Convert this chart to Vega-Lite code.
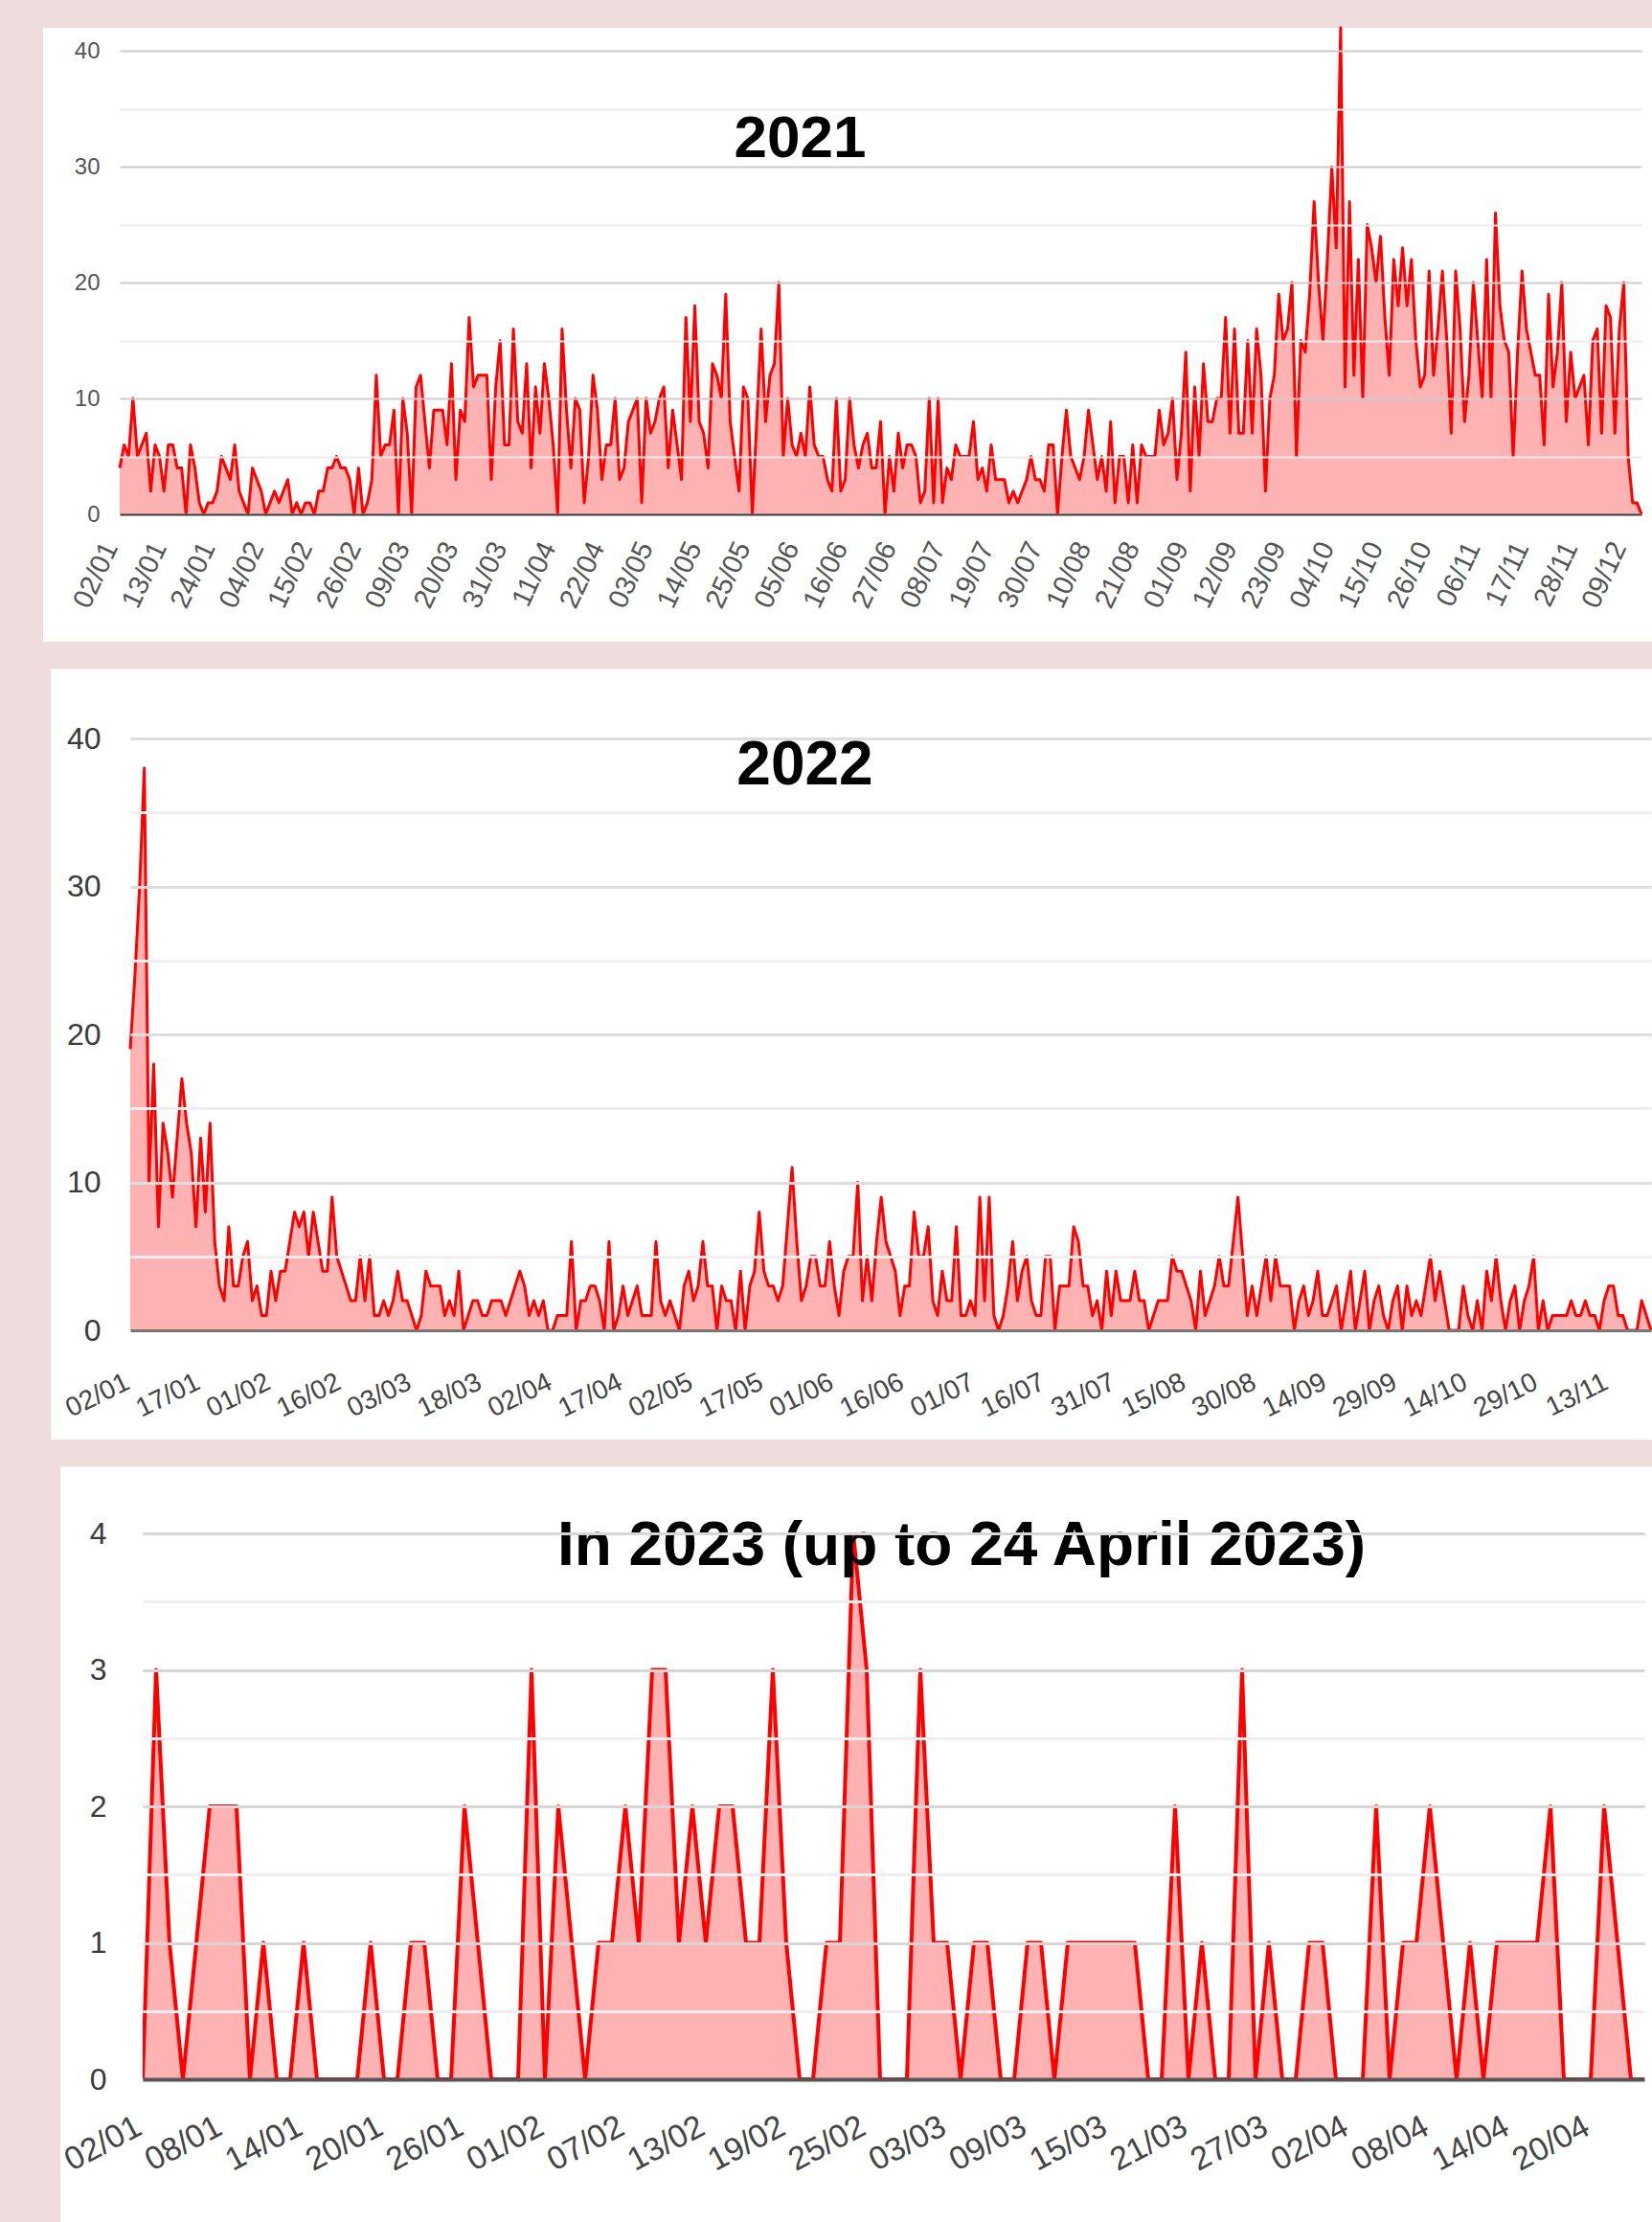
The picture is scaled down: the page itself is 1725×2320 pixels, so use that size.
{
  "$schema": "https://vega.github.io/schema/vega-lite/v6.json",
  "background": "#efdcdc",
  "padding": {"left": 44, "top": 27, "right": 0, "bottom": 0},
  "spacing": 27,
  "config": {
    "font": "Liberation Sans",
    "view": {"stroke": null},
    "axis": {"zindex": 1, "labelFont": "Liberation Sans"}
  },
  "datasets": {
    "y2021": [
      {"d":"2021-01-02","v":4},{"d":"2021-01-03","v":6},{"d":"2021-01-04","v":5},{"d":"2021-01-05","v":10},{"d":"2021-01-06","v":5},{"d":"2021-01-07","v":6},{"d":"2021-01-08","v":7},{"d":"2021-01-09","v":2},{"d":"2021-01-10","v":6},{"d":"2021-01-11","v":5},{"d":"2021-01-12","v":2},{"d":"2021-01-13","v":6},{"d":"2021-01-14","v":6},{"d":"2021-01-15","v":4},{"d":"2021-01-16","v":4},{"d":"2021-01-17","v":0},{"d":"2021-01-18","v":6},{"d":"2021-01-19","v":4},{"d":"2021-01-20","v":1},{"d":"2021-01-21","v":0},{"d":"2021-01-22","v":1},{"d":"2021-01-23","v":1},{"d":"2021-01-24","v":2},{"d":"2021-01-25","v":5},{"d":"2021-01-26","v":4},{"d":"2021-01-27","v":3},{"d":"2021-01-28","v":6},{"d":"2021-01-29","v":2},{"d":"2021-01-30","v":1},{"d":"2021-01-31","v":0},
      {"d":"2021-02-01","v":4},{"d":"2021-02-02","v":3},{"d":"2021-02-03","v":2},{"d":"2021-02-04","v":0},{"d":"2021-02-05","v":1},{"d":"2021-02-06","v":2},{"d":"2021-02-07","v":1},{"d":"2021-02-08","v":2},{"d":"2021-02-09","v":3},{"d":"2021-02-10","v":0},{"d":"2021-02-11","v":1},{"d":"2021-02-12","v":0},{"d":"2021-02-13","v":1},{"d":"2021-02-14","v":1},{"d":"2021-02-15","v":0},{"d":"2021-02-16","v":2},{"d":"2021-02-17","v":2},{"d":"2021-02-18","v":4},{"d":"2021-02-19","v":4},{"d":"2021-02-20","v":5},{"d":"2021-02-21","v":4},{"d":"2021-02-22","v":4},{"d":"2021-02-23","v":3},{"d":"2021-02-24","v":0},{"d":"2021-02-25","v":4},{"d":"2021-02-26","v":0},{"d":"2021-02-27","v":1},{"d":"2021-02-28","v":3},
      {"d":"2021-03-01","v":12},{"d":"2021-03-02","v":5},{"d":"2021-03-03","v":6},{"d":"2021-03-04","v":6},{"d":"2021-03-05","v":9},{"d":"2021-03-06","v":0},{"d":"2021-03-07","v":10},{"d":"2021-03-08","v":7},{"d":"2021-03-09","v":0},{"d":"2021-03-10","v":11},{"d":"2021-03-11","v":12},{"d":"2021-03-12","v":8},{"d":"2021-03-13","v":4},{"d":"2021-03-14","v":9},{"d":"2021-03-15","v":9},{"d":"2021-03-16","v":9},{"d":"2021-03-17","v":6},{"d":"2021-03-18","v":13},{"d":"2021-03-19","v":3},{"d":"2021-03-20","v":9},{"d":"2021-03-21","v":8},{"d":"2021-03-22","v":17},{"d":"2021-03-23","v":11},{"d":"2021-03-24","v":12},{"d":"2021-03-25","v":12},{"d":"2021-03-26","v":12},{"d":"2021-03-27","v":3},{"d":"2021-03-28","v":11},{"d":"2021-03-29","v":15},{"d":"2021-03-30","v":6},{"d":"2021-03-31","v":6},
      {"d":"2021-04-01","v":16},{"d":"2021-04-02","v":8},{"d":"2021-04-03","v":7},{"d":"2021-04-04","v":13},{"d":"2021-04-05","v":4},{"d":"2021-04-06","v":11},{"d":"2021-04-07","v":7},{"d":"2021-04-08","v":13},{"d":"2021-04-09","v":10},{"d":"2021-04-10","v":6},{"d":"2021-04-11","v":0},{"d":"2021-04-12","v":16},{"d":"2021-04-13","v":9},{"d":"2021-04-14","v":4},{"d":"2021-04-15","v":10},{"d":"2021-04-16","v":9},{"d":"2021-04-17","v":1},{"d":"2021-04-18","v":5},{"d":"2021-04-19","v":12},{"d":"2021-04-20","v":9},{"d":"2021-04-21","v":3},{"d":"2021-04-22","v":6},{"d":"2021-04-23","v":6},{"d":"2021-04-24","v":10},{"d":"2021-04-25","v":3},{"d":"2021-04-26","v":4},{"d":"2021-04-27","v":8},{"d":"2021-04-28","v":9},{"d":"2021-04-29","v":10},{"d":"2021-04-30","v":1},
      {"d":"2021-05-01","v":10},{"d":"2021-05-02","v":7},{"d":"2021-05-03","v":8},{"d":"2021-05-04","v":10},{"d":"2021-05-05","v":11},{"d":"2021-05-06","v":4},{"d":"2021-05-07","v":9},{"d":"2021-05-08","v":6},{"d":"2021-05-09","v":3},{"d":"2021-05-10","v":17},{"d":"2021-05-11","v":8},{"d":"2021-05-12","v":18},{"d":"2021-05-13","v":8},{"d":"2021-05-14","v":7},{"d":"2021-05-15","v":4},{"d":"2021-05-16","v":13},{"d":"2021-05-17","v":12},{"d":"2021-05-18","v":10},{"d":"2021-05-19","v":19},{"d":"2021-05-20","v":8},{"d":"2021-05-21","v":5},{"d":"2021-05-22","v":2},{"d":"2021-05-23","v":11},{"d":"2021-05-24","v":10},{"d":"2021-05-25","v":0},{"d":"2021-05-26","v":8},{"d":"2021-05-27","v":16},{"d":"2021-05-28","v":8},{"d":"2021-05-29","v":12},{"d":"2021-05-30","v":13},{"d":"2021-05-31","v":20},
      {"d":"2021-06-01","v":5},{"d":"2021-06-02","v":10},{"d":"2021-06-03","v":6},{"d":"2021-06-04","v":5},{"d":"2021-06-05","v":7},{"d":"2021-06-06","v":5},{"d":"2021-06-07","v":11},{"d":"2021-06-08","v":6},{"d":"2021-06-09","v":5},{"d":"2021-06-10","v":5},{"d":"2021-06-11","v":3},{"d":"2021-06-12","v":2},{"d":"2021-06-13","v":10},{"d":"2021-06-14","v":2},{"d":"2021-06-15","v":3},{"d":"2021-06-16","v":10},{"d":"2021-06-17","v":6},{"d":"2021-06-18","v":4},{"d":"2021-06-19","v":6},{"d":"2021-06-20","v":7},{"d":"2021-06-21","v":4},{"d":"2021-06-22","v":4},{"d":"2021-06-23","v":8},{"d":"2021-06-24","v":0},{"d":"2021-06-25","v":5},{"d":"2021-06-26","v":2},{"d":"2021-06-27","v":7},{"d":"2021-06-28","v":4},{"d":"2021-06-29","v":6},{"d":"2021-06-30","v":6},
      {"d":"2021-07-01","v":5},{"d":"2021-07-02","v":1},{"d":"2021-07-03","v":2},{"d":"2021-07-04","v":10},{"d":"2021-07-05","v":1},{"d":"2021-07-06","v":10},{"d":"2021-07-07","v":1},{"d":"2021-07-08","v":4},{"d":"2021-07-09","v":3},{"d":"2021-07-10","v":6},{"d":"2021-07-11","v":5},{"d":"2021-07-12","v":5},{"d":"2021-07-13","v":5},{"d":"2021-07-14","v":8},{"d":"2021-07-15","v":3},{"d":"2021-07-16","v":4},{"d":"2021-07-17","v":2},{"d":"2021-07-18","v":6},{"d":"2021-07-19","v":3},{"d":"2021-07-20","v":3},{"d":"2021-07-21","v":3},{"d":"2021-07-22","v":1},{"d":"2021-07-23","v":2},{"d":"2021-07-24","v":1},{"d":"2021-07-25","v":2},{"d":"2021-07-26","v":3},{"d":"2021-07-27","v":5},{"d":"2021-07-28","v":3},{"d":"2021-07-29","v":3},{"d":"2021-07-30","v":2},{"d":"2021-07-31","v":6},
      {"d":"2021-08-01","v":6},{"d":"2021-08-02","v":0},{"d":"2021-08-03","v":5},{"d":"2021-08-04","v":9},{"d":"2021-08-05","v":5},{"d":"2021-08-06","v":4},{"d":"2021-08-07","v":3},{"d":"2021-08-08","v":5},{"d":"2021-08-09","v":9},{"d":"2021-08-10","v":6},{"d":"2021-08-11","v":3},{"d":"2021-08-12","v":5},{"d":"2021-08-13","v":2},{"d":"2021-08-14","v":8},{"d":"2021-08-15","v":1},{"d":"2021-08-16","v":5},{"d":"2021-08-17","v":5},{"d":"2021-08-18","v":1},{"d":"2021-08-19","v":6},{"d":"2021-08-20","v":1},{"d":"2021-08-21","v":6},{"d":"2021-08-22","v":5},{"d":"2021-08-23","v":5},{"d":"2021-08-24","v":5},{"d":"2021-08-25","v":9},{"d":"2021-08-26","v":6},{"d":"2021-08-27","v":7},{"d":"2021-08-28","v":10},{"d":"2021-08-29","v":3},{"d":"2021-08-30","v":7},{"d":"2021-08-31","v":14},
      {"d":"2021-09-01","v":2},{"d":"2021-09-02","v":11},{"d":"2021-09-03","v":5},{"d":"2021-09-04","v":13},{"d":"2021-09-05","v":8},{"d":"2021-09-06","v":8},{"d":"2021-09-07","v":10},{"d":"2021-09-08","v":10},{"d":"2021-09-09","v":17},{"d":"2021-09-10","v":7},{"d":"2021-09-11","v":16},{"d":"2021-09-12","v":7},{"d":"2021-09-13","v":7},{"d":"2021-09-14","v":15},{"d":"2021-09-15","v":7},{"d":"2021-09-16","v":16},{"d":"2021-09-17","v":12},{"d":"2021-09-18","v":2},{"d":"2021-09-19","v":10},{"d":"2021-09-20","v":12},{"d":"2021-09-21","v":19},{"d":"2021-09-22","v":15},{"d":"2021-09-23","v":16},{"d":"2021-09-24","v":20},{"d":"2021-09-25","v":5},{"d":"2021-09-26","v":15},{"d":"2021-09-27","v":14},{"d":"2021-09-28","v":19},{"d":"2021-09-29","v":27},{"d":"2021-09-30","v":20},
      {"d":"2021-10-01","v":15},{"d":"2021-10-02","v":22},{"d":"2021-10-03","v":30},{"d":"2021-10-04","v":23},{"d":"2021-10-05","v":42},{"d":"2021-10-06","v":11},{"d":"2021-10-07","v":27},{"d":"2021-10-08","v":12},{"d":"2021-10-09","v":22},{"d":"2021-10-10","v":10},{"d":"2021-10-11","v":25},{"d":"2021-10-12","v":23},{"d":"2021-10-13","v":20},{"d":"2021-10-14","v":24},{"d":"2021-10-15","v":17},{"d":"2021-10-16","v":12},{"d":"2021-10-17","v":22},{"d":"2021-10-18","v":18},{"d":"2021-10-19","v":23},{"d":"2021-10-20","v":18},{"d":"2021-10-21","v":22},{"d":"2021-10-22","v":15},{"d":"2021-10-23","v":11},{"d":"2021-10-24","v":12},{"d":"2021-10-25","v":21},{"d":"2021-10-26","v":12},{"d":"2021-10-27","v":16},{"d":"2021-10-28","v":21},{"d":"2021-10-29","v":15},{"d":"2021-10-30","v":7},{"d":"2021-10-31","v":21},
      {"d":"2021-11-01","v":16},{"d":"2021-11-02","v":8},{"d":"2021-11-03","v":12},{"d":"2021-11-04","v":20},{"d":"2021-11-05","v":15},{"d":"2021-11-06","v":10},{"d":"2021-11-07","v":22},{"d":"2021-11-08","v":10},{"d":"2021-11-09","v":26},{"d":"2021-11-10","v":18},{"d":"2021-11-11","v":15},{"d":"2021-11-12","v":14},{"d":"2021-11-13","v":5},{"d":"2021-11-14","v":14},{"d":"2021-11-15","v":21},{"d":"2021-11-16","v":16},{"d":"2021-11-17","v":14},{"d":"2021-11-18","v":12},{"d":"2021-11-19","v":12},{"d":"2021-11-20","v":6},{"d":"2021-11-21","v":19},{"d":"2021-11-22","v":11},{"d":"2021-11-23","v":14},{"d":"2021-11-24","v":20},{"d":"2021-11-25","v":8},{"d":"2021-11-26","v":14},{"d":"2021-11-27","v":10},{"d":"2021-11-28","v":11},{"d":"2021-11-29","v":12},{"d":"2021-11-30","v":6},
      {"d":"2021-12-01","v":15},{"d":"2021-12-02","v":16},{"d":"2021-12-03","v":7},{"d":"2021-12-04","v":18},{"d":"2021-12-05","v":17},{"d":"2021-12-06","v":7},{"d":"2021-12-07","v":16},{"d":"2021-12-08","v":20},{"d":"2021-12-09","v":5},{"d":"2021-12-10","v":1},{"d":"2021-12-11","v":1},{"d":"2021-12-12","v":0}
    ],
    "y2022": [
      {"d":"2022-01-02","v":19},{"d":"2022-01-03","v":24},{"d":"2022-01-04","v":30},{"d":"2022-01-05","v":38},{"d":"2022-01-06","v":10},{"d":"2022-01-07","v":18},{"d":"2022-01-08","v":7},{"d":"2022-01-09","v":14},{"d":"2022-01-10","v":12},{"d":"2022-01-11","v":9},{"d":"2022-01-12","v":13},{"d":"2022-01-13","v":17},{"d":"2022-01-14","v":14},{"d":"2022-01-15","v":12},{"d":"2022-01-16","v":7},{"d":"2022-01-17","v":13},{"d":"2022-01-18","v":8},{"d":"2022-01-19","v":14},{"d":"2022-01-20","v":6},{"d":"2022-01-21","v":3},{"d":"2022-01-22","v":2},{"d":"2022-01-23","v":7},{"d":"2022-01-24","v":3},{"d":"2022-01-25","v":3},{"d":"2022-01-26","v":5},{"d":"2022-01-27","v":6},{"d":"2022-01-28","v":2},{"d":"2022-01-29","v":3},{"d":"2022-01-30","v":1},{"d":"2022-01-31","v":1},
      {"d":"2022-02-01","v":4},{"d":"2022-02-02","v":2},{"d":"2022-02-03","v":4},{"d":"2022-02-04","v":4},{"d":"2022-02-05","v":6},{"d":"2022-02-06","v":8},{"d":"2022-02-07","v":7},{"d":"2022-02-08","v":8},{"d":"2022-02-09","v":5},{"d":"2022-02-10","v":8},{"d":"2022-02-11","v":6},{"d":"2022-02-12","v":4},{"d":"2022-02-13","v":4},{"d":"2022-02-14","v":9},{"d":"2022-02-15","v":5},{"d":"2022-02-16","v":4},{"d":"2022-02-17","v":3},{"d":"2022-02-18","v":2},{"d":"2022-02-19","v":2},{"d":"2022-02-20","v":5},{"d":"2022-02-21","v":2},{"d":"2022-02-22","v":5},{"d":"2022-02-23","v":1},{"d":"2022-02-24","v":1},{"d":"2022-02-25","v":2},{"d":"2022-02-26","v":1},{"d":"2022-02-27","v":2},{"d":"2022-02-28","v":4},
      {"d":"2022-03-01","v":2},{"d":"2022-03-02","v":2},{"d":"2022-03-03","v":1},{"d":"2022-03-04","v":0},{"d":"2022-03-05","v":1},{"d":"2022-03-06","v":4},{"d":"2022-03-07","v":3},{"d":"2022-03-08","v":3},{"d":"2022-03-09","v":3},{"d":"2022-03-10","v":1},{"d":"2022-03-11","v":2},{"d":"2022-03-12","v":1},{"d":"2022-03-13","v":4},{"d":"2022-03-14","v":0},{"d":"2022-03-15","v":1},{"d":"2022-03-16","v":2},{"d":"2022-03-17","v":2},{"d":"2022-03-18","v":1},{"d":"2022-03-19","v":1},{"d":"2022-03-20","v":2},{"d":"2022-03-21","v":2},{"d":"2022-03-22","v":2},{"d":"2022-03-23","v":1},{"d":"2022-03-24","v":2},{"d":"2022-03-25","v":3},{"d":"2022-03-26","v":4},{"d":"2022-03-27","v":3},{"d":"2022-03-28","v":1},{"d":"2022-03-29","v":2},{"d":"2022-03-30","v":1},{"d":"2022-03-31","v":2},
      {"d":"2022-04-01","v":0},{"d":"2022-04-02","v":0},{"d":"2022-04-03","v":1},{"d":"2022-04-04","v":1},{"d":"2022-04-05","v":1},{"d":"2022-04-06","v":6},{"d":"2022-04-07","v":0},{"d":"2022-04-08","v":2},{"d":"2022-04-09","v":2},{"d":"2022-04-10","v":3},{"d":"2022-04-11","v":3},{"d":"2022-04-12","v":2},{"d":"2022-04-13","v":0},{"d":"2022-04-14","v":6},{"d":"2022-04-15","v":0},{"d":"2022-04-16","v":1},{"d":"2022-04-17","v":3},{"d":"2022-04-18","v":1},{"d":"2022-04-19","v":2},{"d":"2022-04-20","v":3},{"d":"2022-04-21","v":1},{"d":"2022-04-22","v":1},{"d":"2022-04-23","v":1},{"d":"2022-04-24","v":6},{"d":"2022-04-25","v":2},{"d":"2022-04-26","v":1},{"d":"2022-04-27","v":2},{"d":"2022-04-28","v":1},{"d":"2022-04-29","v":0},{"d":"2022-04-30","v":3},
      {"d":"2022-05-01","v":4},{"d":"2022-05-02","v":2},{"d":"2022-05-03","v":3},{"d":"2022-05-04","v":6},{"d":"2022-05-05","v":3},{"d":"2022-05-06","v":3},{"d":"2022-05-07","v":0},{"d":"2022-05-08","v":3},{"d":"2022-05-09","v":2},{"d":"2022-05-10","v":2},{"d":"2022-05-11","v":0},{"d":"2022-05-12","v":4},{"d":"2022-05-13","v":0},{"d":"2022-05-14","v":3},{"d":"2022-05-15","v":4},{"d":"2022-05-16","v":8},{"d":"2022-05-17","v":4},{"d":"2022-05-18","v":3},{"d":"2022-05-19","v":3},{"d":"2022-05-20","v":2},{"d":"2022-05-21","v":3},{"d":"2022-05-22","v":7},{"d":"2022-05-23","v":11},{"d":"2022-05-24","v":6},{"d":"2022-05-25","v":2},{"d":"2022-05-26","v":3},{"d":"2022-05-27","v":5},{"d":"2022-05-28","v":5},{"d":"2022-05-29","v":3},{"d":"2022-05-30","v":3},{"d":"2022-05-31","v":6},
      {"d":"2022-06-01","v":3},{"d":"2022-06-02","v":1},{"d":"2022-06-03","v":4},{"d":"2022-06-04","v":5},{"d":"2022-06-05","v":5},{"d":"2022-06-06","v":10},{"d":"2022-06-07","v":2},{"d":"2022-06-08","v":5},{"d":"2022-06-09","v":2},{"d":"2022-06-10","v":6},{"d":"2022-06-11","v":9},{"d":"2022-06-12","v":6},{"d":"2022-06-13","v":5},{"d":"2022-06-14","v":4},{"d":"2022-06-15","v":1},{"d":"2022-06-16","v":3},{"d":"2022-06-17","v":3},{"d":"2022-06-18","v":8},{"d":"2022-06-19","v":5},{"d":"2022-06-20","v":5},{"d":"2022-06-21","v":7},{"d":"2022-06-22","v":2},{"d":"2022-06-23","v":1},{"d":"2022-06-24","v":4},{"d":"2022-06-25","v":2},{"d":"2022-06-26","v":2},{"d":"2022-06-27","v":7},{"d":"2022-06-28","v":1},{"d":"2022-06-29","v":1},{"d":"2022-06-30","v":2},
      {"d":"2022-07-01","v":1},{"d":"2022-07-02","v":9},{"d":"2022-07-03","v":2},{"d":"2022-07-04","v":9},{"d":"2022-07-05","v":1},{"d":"2022-07-06","v":0},{"d":"2022-07-07","v":1},{"d":"2022-07-08","v":3},{"d":"2022-07-09","v":6},{"d":"2022-07-10","v":2},{"d":"2022-07-11","v":4},{"d":"2022-07-12","v":5},{"d":"2022-07-13","v":2},{"d":"2022-07-14","v":1},{"d":"2022-07-15","v":1},{"d":"2022-07-16","v":5},{"d":"2022-07-17","v":5},{"d":"2022-07-18","v":0},{"d":"2022-07-19","v":3},{"d":"2022-07-20","v":3},{"d":"2022-07-21","v":3},{"d":"2022-07-22","v":7},{"d":"2022-07-23","v":6},{"d":"2022-07-24","v":3},{"d":"2022-07-25","v":3},{"d":"2022-07-26","v":1},{"d":"2022-07-27","v":2},{"d":"2022-07-28","v":0},{"d":"2022-07-29","v":4},{"d":"2022-07-30","v":1},{"d":"2022-07-31","v":4},
      {"d":"2022-08-01","v":2},{"d":"2022-08-02","v":2},{"d":"2022-08-03","v":2},{"d":"2022-08-04","v":4},{"d":"2022-08-05","v":2},{"d":"2022-08-06","v":2},{"d":"2022-08-07","v":0},{"d":"2022-08-08","v":1},{"d":"2022-08-09","v":2},{"d":"2022-08-10","v":2},{"d":"2022-08-11","v":2},{"d":"2022-08-12","v":5},{"d":"2022-08-13","v":4},{"d":"2022-08-14","v":4},{"d":"2022-08-15","v":3},{"d":"2022-08-16","v":2},{"d":"2022-08-17","v":0},{"d":"2022-08-18","v":4},{"d":"2022-08-19","v":1},{"d":"2022-08-20","v":2},{"d":"2022-08-21","v":3},{"d":"2022-08-22","v":5},{"d":"2022-08-23","v":3},{"d":"2022-08-24","v":3},{"d":"2022-08-25","v":6},{"d":"2022-08-26","v":9},{"d":"2022-08-27","v":5},{"d":"2022-08-28","v":1},{"d":"2022-08-29","v":3},{"d":"2022-08-30","v":1},{"d":"2022-08-31","v":3},
      {"d":"2022-09-01","v":5},{"d":"2022-09-02","v":2},{"d":"2022-09-03","v":5},{"d":"2022-09-04","v":3},{"d":"2022-09-05","v":3},{"d":"2022-09-06","v":3},{"d":"2022-09-07","v":0},{"d":"2022-09-08","v":2},{"d":"2022-09-09","v":3},{"d":"2022-09-10","v":1},{"d":"2022-09-11","v":2},{"d":"2022-09-12","v":4},{"d":"2022-09-13","v":1},{"d":"2022-09-14","v":1},{"d":"2022-09-15","v":2},{"d":"2022-09-16","v":3},{"d":"2022-09-17","v":0},{"d":"2022-09-18","v":2},{"d":"2022-09-19","v":4},{"d":"2022-09-20","v":0},{"d":"2022-09-21","v":2},{"d":"2022-09-22","v":4},{"d":"2022-09-23","v":0},{"d":"2022-09-24","v":2},{"d":"2022-09-25","v":3},{"d":"2022-09-26","v":1},{"d":"2022-09-27","v":0},{"d":"2022-09-28","v":2},{"d":"2022-09-29","v":3},{"d":"2022-09-30","v":0},
      {"d":"2022-10-01","v":3},{"d":"2022-10-02","v":1},{"d":"2022-10-03","v":2},{"d":"2022-10-04","v":1},{"d":"2022-10-05","v":3},{"d":"2022-10-06","v":5},{"d":"2022-10-07","v":2},{"d":"2022-10-08","v":4},{"d":"2022-10-09","v":2},{"d":"2022-10-10","v":0},{"d":"2022-10-11","v":0},{"d":"2022-10-12","v":0},{"d":"2022-10-13","v":3},{"d":"2022-10-14","v":1},{"d":"2022-10-15","v":0},{"d":"2022-10-16","v":2},{"d":"2022-10-17","v":0},{"d":"2022-10-18","v":4},{"d":"2022-10-19","v":2},{"d":"2022-10-20","v":5},{"d":"2022-10-21","v":2},{"d":"2022-10-22","v":0},{"d":"2022-10-23","v":2},{"d":"2022-10-24","v":3},{"d":"2022-10-25","v":0},{"d":"2022-10-26","v":2},{"d":"2022-10-27","v":3},{"d":"2022-10-28","v":5},{"d":"2022-10-29","v":0},{"d":"2022-10-30","v":2},{"d":"2022-10-31","v":0},
      {"d":"2022-11-01","v":1},{"d":"2022-11-02","v":1},{"d":"2022-11-03","v":1},{"d":"2022-11-04","v":1},{"d":"2022-11-05","v":2},{"d":"2022-11-06","v":1},{"d":"2022-11-07","v":1},{"d":"2022-11-08","v":2},{"d":"2022-11-09","v":1},{"d":"2022-11-10","v":1},{"d":"2022-11-11","v":0},{"d":"2022-11-12","v":2},{"d":"2022-11-13","v":3},{"d":"2022-11-14","v":3},{"d":"2022-11-15","v":1},{"d":"2022-11-16","v":1},{"d":"2022-11-17","v":0},{"d":"2022-11-18","v":0},{"d":"2022-11-19","v":0},{"d":"2022-11-20","v":2},{"d":"2022-11-21","v":1},{"d":"2022-11-22","v":0}
    ],
    "y2023": [
      {"d":"2023-01-02","v":0},{"d":"2023-01-03","v":3},{"d":"2023-01-04","v":1},{"d":"2023-01-05","v":0},{"d":"2023-01-06","v":1},{"d":"2023-01-07","v":2},{"d":"2023-01-08","v":2},{"d":"2023-01-09","v":2},{"d":"2023-01-10","v":0},{"d":"2023-01-11","v":1},{"d":"2023-01-12","v":0},{"d":"2023-01-13","v":0},{"d":"2023-01-14","v":1},{"d":"2023-01-15","v":0},{"d":"2023-01-16","v":0},{"d":"2023-01-17","v":0},{"d":"2023-01-18","v":0},{"d":"2023-01-19","v":1},{"d":"2023-01-20","v":0},{"d":"2023-01-21","v":0},{"d":"2023-01-22","v":1},{"d":"2023-01-23","v":1},{"d":"2023-01-24","v":0},{"d":"2023-01-25","v":0},{"d":"2023-01-26","v":2},{"d":"2023-01-27","v":1},{"d":"2023-01-28","v":0},{"d":"2023-01-29","v":0},{"d":"2023-01-30","v":0},{"d":"2023-01-31","v":3},
      {"d":"2023-02-01","v":0},{"d":"2023-02-02","v":2},{"d":"2023-02-03","v":1},{"d":"2023-02-04","v":0},{"d":"2023-02-05","v":1},{"d":"2023-02-06","v":1},{"d":"2023-02-07","v":2},{"d":"2023-02-08","v":1},{"d":"2023-02-09","v":3},{"d":"2023-02-10","v":3},{"d":"2023-02-11","v":1},{"d":"2023-02-12","v":2},{"d":"2023-02-13","v":1},{"d":"2023-02-14","v":2},{"d":"2023-02-15","v":2},{"d":"2023-02-16","v":1},{"d":"2023-02-17","v":1},{"d":"2023-02-18","v":3},{"d":"2023-02-19","v":1},{"d":"2023-02-20","v":0},{"d":"2023-02-21","v":0},{"d":"2023-02-22","v":1},{"d":"2023-02-23","v":1},{"d":"2023-02-24","v":4},{"d":"2023-02-25","v":3},{"d":"2023-02-26","v":0},{"d":"2023-02-27","v":0},{"d":"2023-02-28","v":0},
      {"d":"2023-03-01","v":3},{"d":"2023-03-02","v":1},{"d":"2023-03-03","v":1},{"d":"2023-03-04","v":0},{"d":"2023-03-05","v":1},{"d":"2023-03-06","v":1},{"d":"2023-03-07","v":0},{"d":"2023-03-08","v":0},{"d":"2023-03-09","v":1},{"d":"2023-03-10","v":1},{"d":"2023-03-11","v":0},{"d":"2023-03-12","v":1},{"d":"2023-03-13","v":1},{"d":"2023-03-14","v":1},{"d":"2023-03-15","v":1},{"d":"2023-03-16","v":1},{"d":"2023-03-17","v":1},{"d":"2023-03-18","v":0},{"d":"2023-03-19","v":0},{"d":"2023-03-20","v":2},{"d":"2023-03-21","v":0},{"d":"2023-03-22","v":1},{"d":"2023-03-23","v":0},{"d":"2023-03-24","v":0},{"d":"2023-03-25","v":3},{"d":"2023-03-26","v":0},{"d":"2023-03-27","v":1},{"d":"2023-03-28","v":0},{"d":"2023-03-29","v":0},{"d":"2023-03-30","v":1},{"d":"2023-03-31","v":1},
      {"d":"2023-04-01","v":0},{"d":"2023-04-02","v":0},{"d":"2023-04-03","v":0},{"d":"2023-04-04","v":2},{"d":"2023-04-05","v":0},{"d":"2023-04-06","v":1},{"d":"2023-04-07","v":1},{"d":"2023-04-08","v":2},{"d":"2023-04-09","v":1},{"d":"2023-04-10","v":0},{"d":"2023-04-11","v":1},{"d":"2023-04-12","v":0},{"d":"2023-04-13","v":1},{"d":"2023-04-14","v":1},{"d":"2023-04-15","v":1},{"d":"2023-04-16","v":1},{"d":"2023-04-17","v":2},{"d":"2023-04-18","v":0},{"d":"2023-04-19","v":0},{"d":"2023-04-20","v":0},{"d":"2023-04-21","v":2},{"d":"2023-04-22","v":1},{"d":"2023-04-23","v":0},{"d":"2023-04-24","v":0}
    ]
  },
  "vconcat": [
    {
      "width": 1565,
      "height": 508,
      "title": {"text": "2021", "anchor": "middle", "frame": "group", "offset": 0, "dx": -96, "dy": 198, "baseline": "alphabetic", "fontSize": 62, "fontWeight": "bold", "font": "Liberation Sans", "color": "#000000"},
      "layer": [
        {
          "data": {"values": [{}]},
          "mark": {"type": "rect", "fill": "#ffffff"},
          "encoding": {
            "x": {"datum": {"year": 2020, "month": 12, "date": 15, "hours": 16, "minutes": 19, "utc": true}, "type": "temporal"},
            "x2": {"datum": {"year": 2021, "month": 12, "date": 14, "hours": 14, "minutes": 24, "utc": true}},
            "y": {"datum": -11.0, "type": "quantitative"},
            "y2": {"datum": 42}
          }
        },
        {
          "data": {"name": "y2021"},
          "mark": {"type": "area", "fill": "#ff0000", "fillOpacity": 0.3, "clip": false},
          "encoding": {
            "x": {
              "field": "d", "type": "temporal",
              "scale": {"type": "utc", "nice": false, "range": [-24, 1565], "domain": [{"year": 2021, "month": 1, "date": 2, "utc": true}, {"year": 2021, "month": 12, "date": 12, "utc": true}]},
              "axis": {
                "title": null, "zindex": 1, "grid": false, "ticks": false,
                "domain": true, "domainColor": "#444444", "domainWidth": 2,
                "labelAngle": -65, "labelFontSize": 29, "labelColor": "#555555", "labelPadding": 30, "labelOffset": -10,
                "labelOverlap": false, "labelFlush": false, "labelBound": false,
                "labelExpr": "utcFormat(datum.value, '%d/%m')",
                "values": [
                  {"year":2021,"month":1,"date":2,"utc":true},{"year":2021,"month":1,"date":13,"utc":true},{"year":2021,"month":1,"date":24,"utc":true},{"year":2021,"month":2,"date":4,"utc":true},{"year":2021,"month":2,"date":15,"utc":true},{"year":2021,"month":2,"date":26,"utc":true},{"year":2021,"month":3,"date":9,"utc":true},{"year":2021,"month":3,"date":20,"utc":true},{"year":2021,"month":3,"date":31,"utc":true},{"year":2021,"month":4,"date":11,"utc":true},{"year":2021,"month":4,"date":22,"utc":true},{"year":2021,"month":5,"date":3,"utc":true},{"year":2021,"month":5,"date":14,"utc":true},{"year":2021,"month":5,"date":25,"utc":true},{"year":2021,"month":6,"date":5,"utc":true},{"year":2021,"month":6,"date":16,"utc":true},{"year":2021,"month":6,"date":27,"utc":true},{"year":2021,"month":7,"date":8,"utc":true},{"year":2021,"month":7,"date":19,"utc":true},{"year":2021,"month":7,"date":30,"utc":true},{"year":2021,"month":8,"date":10,"utc":true},{"year":2021,"month":8,"date":21,"utc":true},{"year":2021,"month":9,"date":1,"utc":true},{"year":2021,"month":9,"date":12,"utc":true},{"year":2021,"month":9,"date":23,"utc":true},{"year":2021,"month":10,"date":4,"utc":true},{"year":2021,"month":10,"date":15,"utc":true},{"year":2021,"month":10,"date":26,"utc":true},{"year":2021,"month":11,"date":6,"utc":true},{"year":2021,"month":11,"date":17,"utc":true},{"year":2021,"month":11,"date":28,"utc":true},{"year":2021,"month":12,"date":9,"utc":true}
                ]
              }
            },
            "y": {
              "field": "v", "type": "quantitative",
              "scale": {"domain": [0, 42], "nice": false, "zero": true},
              "axis": {
                "title": null, "zindex": 1, "domain": false, "ticks": false,
                "values": [0, 5, 10, 15, 20, 25, 30, 35, 40],
                "labelExpr": "datum.value % 10 === 0 ? datum.label : ''",
                "labelFontSize": 24, "labelColor": "#555555", "labelPadding": 45,
                "grid": true, "gridWidth": 2,
                "gridColor": {"condition": {"test": "datum.value % 10 === 0", "value": "#cccccc"}, "value": "#ebebeb"}
              }
            }
          }
        },
        {
          "data": {"name": "y2021"},
          "mark": {"type": "line", "color": "#ff0000", "strokeWidth": 3, "strokeJoin": "round", "clip": false},
          "encoding": {
            "x": {"field": "d", "type": "temporal"},
            "y": {"field": "v", "type": "quantitative"}
          }
        }
      ]
    },
    {
      "width": 1577,
      "height": 618,
      "title": {"text": "2022", "anchor": "middle", "frame": "group", "offset": 0, "dx": -97, "dy": 185, "baseline": "alphabetic", "fontSize": 64, "fontWeight": "bold", "font": "Liberation Sans", "color": "#000000"},
      "layer": [
        {
          "data": {"values": [{}]},
          "mark": {"type": "rect", "fill": "#ffffff"},
          "encoding": {
            "x": {"datum": {"year": 2021, "month": 12, "date": 16, "hours": 1, "minutes": 26, "utc": true}, "type": "temporal"},
            "x2": {"datum": {"year": 2022, "month": 11, "date": 22, "hours": 9, "minutes": 47, "utc": true}},
            "y": {"datum": -7.4, "type": "quantitative"},
            "y2": {"datum": 44.7}
          }
        },
        {
          "data": {"name": "y2022"},
          "mark": {"type": "area", "fill": "#ff0000", "fillOpacity": 0.3, "clip": false},
          "encoding": {
            "x": {
              "field": "d", "type": "temporal",
              "scale": {"type": "utc", "nice": false, "range": [-13, 1575], "domain": [{"year": 2022, "month": 1, "date": 2, "utc": true}, {"year": 2022, "month": 11, "date": 22, "utc": true}]},
              "axis": {
                "title": null, "zindex": 1, "grid": false, "ticks": false,
                "domain": true, "domainColor": "#777777", "domainWidth": 3,
                "labelAngle": -26, "labelFontSize": 28, "labelColor": "#444444", "labelPadding": 40, "labelOffset": -9,
                "labelOverlap": false, "labelFlush": false, "labelBound": false,
                "labelExpr": "utcFormat(datum.value, '%d/%m')",
                "values": [
                  {"year":2022,"month":1,"date":2,"utc":true},{"year":2022,"month":1,"date":17,"utc":true},{"year":2022,"month":2,"date":1,"utc":true},{"year":2022,"month":2,"date":16,"utc":true},{"year":2022,"month":3,"date":3,"utc":true},{"year":2022,"month":3,"date":18,"utc":true},{"year":2022,"month":4,"date":2,"utc":true},{"year":2022,"month":4,"date":17,"utc":true},{"year":2022,"month":5,"date":2,"utc":true},{"year":2022,"month":5,"date":17,"utc":true},{"year":2022,"month":6,"date":1,"utc":true},{"year":2022,"month":6,"date":16,"utc":true},{"year":2022,"month":7,"date":1,"utc":true},{"year":2022,"month":7,"date":16,"utc":true},{"year":2022,"month":7,"date":31,"utc":true},{"year":2022,"month":8,"date":15,"utc":true},{"year":2022,"month":8,"date":30,"utc":true},{"year":2022,"month":9,"date":14,"utc":true},{"year":2022,"month":9,"date":29,"utc":true},{"year":2022,"month":10,"date":14,"utc":true},{"year":2022,"month":10,"date":29,"utc":true},{"year":2022,"month":11,"date":13,"utc":true}
                ]
              }
            },
            "y": {
              "field": "v", "type": "quantitative",
              "scale": {"domain": [0, 40], "nice": false, "zero": true},
              "axis": {
                "title": null, "zindex": 1, "domain": false, "ticks": false,
                "values": [0, 5, 10, 15, 20, 25, 30, 35, 40],
                "labelExpr": "datum.value % 10 === 0 ? datum.label : ''",
                "labelFontSize": 32, "labelColor": "#3a3a3a", "labelPadding": 44,
                "grid": true, "gridWidth": 3,
                "gridColor": {"condition": {"test": "datum.value % 10 === 0", "value": "#dddddd"}, "value": "#efefef"}
              }
            }
          }
        },
        {
          "data": {"name": "y2022"},
          "mark": {"type": "line", "color": "#ff0000", "strokeWidth": 3, "strokeJoin": "round", "clip": false},
          "encoding": {
            "x": {"field": "d", "type": "temporal"},
            "y": {"field": "v", "type": "quantitative"}
          }
        }
      ]
    },
    {
      "width": 1568,
      "height": 570,
      "title": {"text": "In 2023 (up to 24 April 2023)", "anchor": "middle", "frame": "group", "offset": 0, "dx": 71, "dy": 167, "baseline": "alphabetic", "fontSize": 64, "fontWeight": "bold", "font": "Liberation Sans", "color": "#000000"},
      "layer": [
        {
          "data": {"values": [{}]},
          "mark": {"type": "rect", "fill": "#ffffff"},
          "encoding": {
            "x": {"datum": {"year": 2022, "month": 12, "date": 26, "hours": 20, "minutes": 34, "utc": true}, "type": "temporal"},
            "x2": {"datum": {"year": 2023, "month": 4, "date": 24, "hours": 15, "minutes": 26, "utc": true}},
            "y": {"datum": -1.07, "type": "quantitative"},
            "y2": {"datum": 4.49}
          }
        },
        {
          "data": {"name": "y2023"},
          "mark": {"type": "area", "fill": "#ff0000", "fillOpacity": 0.3, "clip": true},
          "encoding": {
            "x": {
              "field": "d", "type": "temporal",
              "scale": {"type": "utc", "nice": false, "domain": [{"year": 2023, "month": 1, "date": 2, "utc": true}, {"year": 2023, "month": 4, "date": 24, "utc": true}]},
              "axis": {
                "title": null, "zindex": 1, "grid": false, "ticks": false,
                "domain": true, "domainColor": "#555555", "domainWidth": 4,
                "labelAngle": -28, "labelFontSize": 34, "labelColor": "#444444", "labelPadding": 32, "labelOffset": -12,
                "labelOverlap": false, "labelFlush": false, "labelBound": false,
                "labelExpr": "utcFormat(datum.value, '%d/%m')",
                "values": [
                  {"year":2023,"month":1,"date":2,"utc":true},{"year":2023,"month":1,"date":8,"utc":true},{"year":2023,"month":1,"date":14,"utc":true},{"year":2023,"month":1,"date":20,"utc":true},{"year":2023,"month":1,"date":26,"utc":true},{"year":2023,"month":2,"date":1,"utc":true},{"year":2023,"month":2,"date":7,"utc":true},{"year":2023,"month":2,"date":13,"utc":true},{"year":2023,"month":2,"date":19,"utc":true},{"year":2023,"month":2,"date":25,"utc":true},{"year":2023,"month":3,"date":3,"utc":true},{"year":2023,"month":3,"date":9,"utc":true},{"year":2023,"month":3,"date":15,"utc":true},{"year":2023,"month":3,"date":21,"utc":true},{"year":2023,"month":3,"date":27,"utc":true},{"year":2023,"month":4,"date":2,"utc":true},{"year":2023,"month":4,"date":8,"utc":true},{"year":2023,"month":4,"date":14,"utc":true},{"year":2023,"month":4,"date":20,"utc":true}
                ]
              }
            },
            "y": {
              "field": "v", "type": "quantitative",
              "scale": {"domain": [0, 4], "nice": false, "zero": true},
              "axis": {
                "title": null, "zindex": 1, "domain": false, "ticks": false,
                "minExtent": 104, "maxExtent": 104,
                "values": [0, 0.5, 1, 1.5, 2, 2.5, 3, 3.5, 4],
                "labelExpr": "datum.value % 1 === 0 ? format(datum.value, 'd') : ''",
                "labelFontSize": 32, "labelColor": "#3a3a3a", "labelPadding": 38,
                "grid": true, "gridWidth": 3,
                "gridColor": {"condition": {"test": "datum.value % 1 === 0", "value": "#d6d6d6"}, "value": "#efefef"}
              }
            }
          }
        },
        {
          "data": {"name": "y2023"},
          "mark": {"type": "line", "color": "#ff0000", "strokeWidth": 4, "strokeJoin": "round", "clip": true},
          "encoding": {
            "x": {"field": "d", "type": "temporal"},
            "y": {"field": "v", "type": "quantitative"}
          }
        }
      ]
    }
  ]
}
